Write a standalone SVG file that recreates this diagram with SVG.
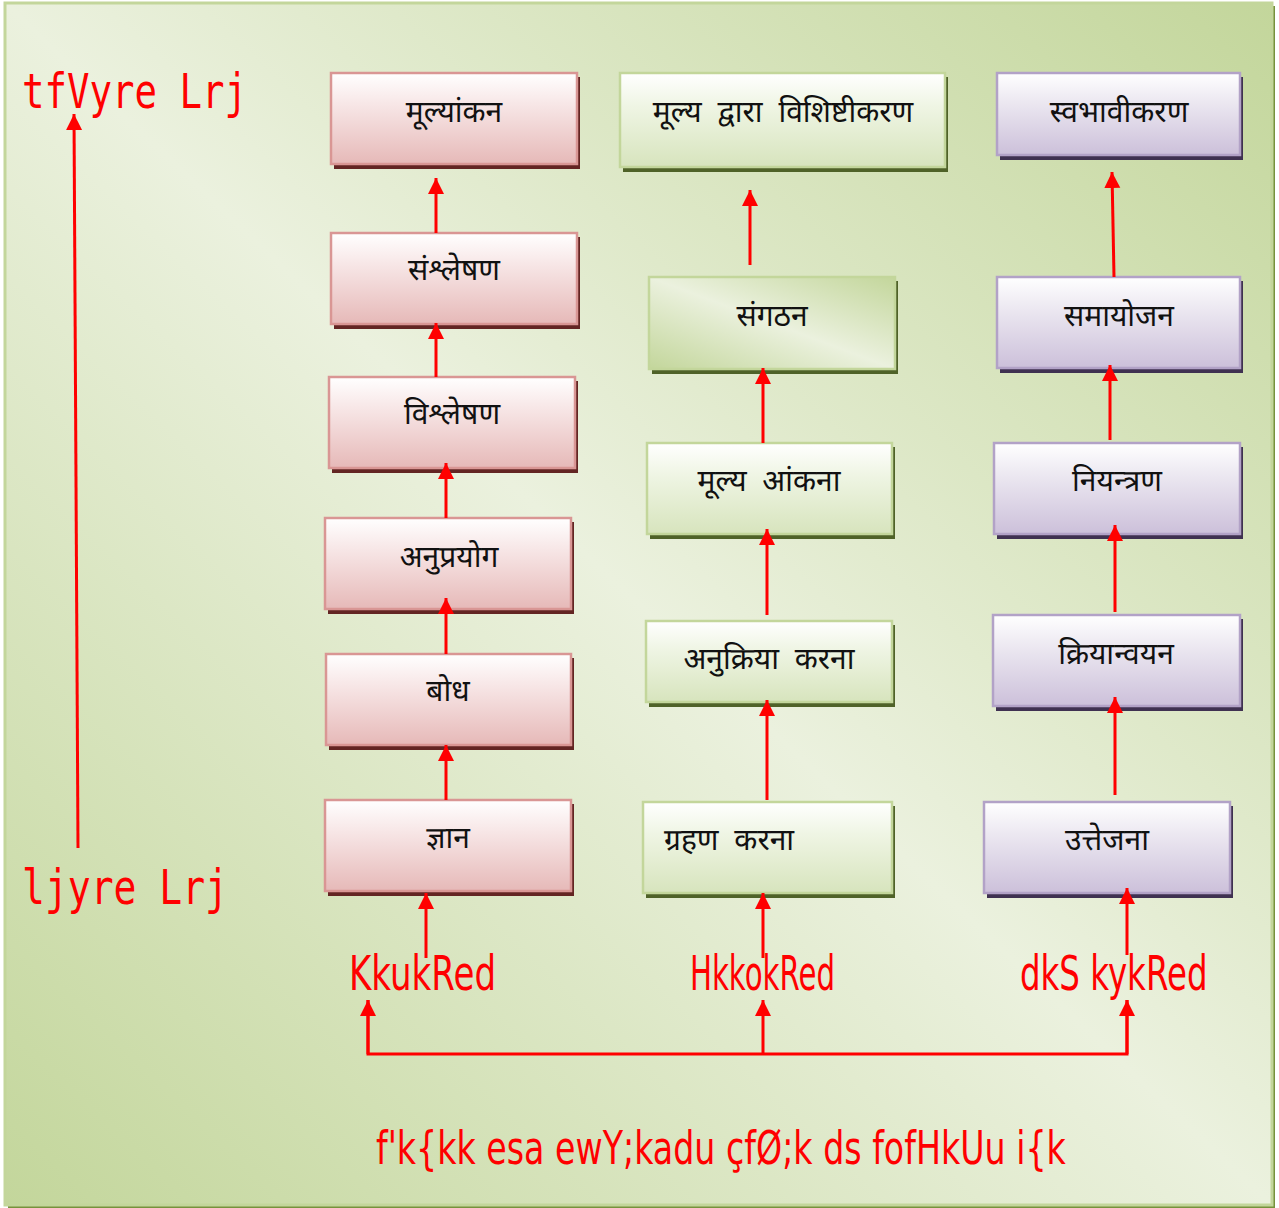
<svg xmlns="http://www.w3.org/2000/svg" width="1279" height="1208" viewBox="0 0 1279 1208">
<defs>
<linearGradient id="bg" x1="1" y1="0" x2="0" y2="1">
<stop offset="0" stop-color="#c3d69b"/>
<stop offset="0.5" stop-color="#ebf1de"/>
<stop offset="1" stop-color="#c3d69b"/>
</linearGradient>
<linearGradient id="gPink" x1="0" y1="0" x2="0" y2="1">
<stop offset="0" stop-color="#ffffff"/>
<stop offset="0.35" stop-color="#f7e6e6"/>
<stop offset="1" stop-color="#e6b9b8"/>
</linearGradient>
<linearGradient id="gGreen" x1="0" y1="0" x2="0" y2="1">
<stop offset="0" stop-color="#ffffff"/>
<stop offset="0.35" stop-color="#eff5e4"/>
<stop offset="1" stop-color="#d7e4bd"/>
</linearGradient>
<linearGradient id="gGreen2" x1="1" y1="0" x2="0" y2="1">
<stop offset="0" stop-color="#c3d69b"/>
<stop offset="0.5" stop-color="#ebf1de"/>
<stop offset="1" stop-color="#c3d69b"/>
</linearGradient>
<linearGradient id="gPurple" x1="0" y1="0" x2="0" y2="1">
<stop offset="0" stop-color="#ffffff"/>
<stop offset="0.35" stop-color="#ece8f1"/>
<stop offset="1" stop-color="#ccc0da"/>
</linearGradient>
<marker id="ah" markerUnits="userSpaceOnUse" markerWidth="16" markerHeight="18" refX="16" refY="8" orient="auto">
<path d="M0,0 L16,8 L0,16 Z" fill="#ff0000"/>
</marker>
</defs>
<style>
.pink rect.b{fill:url(#gPink);stroke:#d99694;stroke-width:2.5}
.pink rect.s{fill:#632523}
.green rect.b{fill:url(#gGreen);stroke:#c3d69b;stroke-width:2.5}
.green rect.s{fill:#4f6228}
.purple rect.b{fill:url(#gPurple);stroke:#b2a2c7;stroke-width:2.5}
.purple rect.s{fill:#3f3151}
.t{font-family:"Noto Sans Devanagari","Lohit Devanagari","Noto Sans",sans-serif;font-size:30px;font-weight:normal;fill:#111;text-anchor:middle}
.r{fill:#ff0000}
.big{font-family:"DejaVu Sans Mono",monospace;font-size:48px}
.leg{font-family:"DejaVu Sans","Liberation Sans",sans-serif;font-size:48px}
#connectors line,#connectors polyline{stroke:#ff0000;stroke-width:3;fill:none}
</style>
<rect x="8" y="6" width="1267" height="1202" fill="#76923c"/>
<rect x="5" y="3" width="1267" height="1202" fill="url(#bg)" stroke="#c3d69b" stroke-width="3"/>

<g id="n1" class="pink"><rect class="s" x="334" y="77" width="246" height="92"/><rect class="b" x="331" y="73" width="246" height="91"/><text class="t" x="454" y="122">मूल्यांकन</text></g>
<g id="n2" class="pink"><rect class="s" x="334" y="237" width="246" height="92"/><rect class="b" x="331" y="233" width="246" height="91"/><text class="t" x="454" y="280">संश्लेषण</text></g>
<g id="n3" class="pink"><rect class="s" x="332" y="381" width="246" height="92"/><rect class="b" x="329" y="377" width="246" height="91"/><text class="t" x="452" y="424">विश्लेषण</text></g>
<g id="n4" class="pink"><rect class="s" x="328" y="522" width="246" height="92"/><rect class="b" x="325" y="518" width="246" height="91"/><text class="t" x="449" y="567">अनुप्रयोग</text></g>
<g id="n5" class="pink"><rect class="s" x="329" y="658" width="245" height="92"/><rect class="b" x="326" y="654" width="245" height="91"/><text class="t" x="448" y="701">बोध</text></g>
<g id="n6" class="pink"><rect class="s" x="328" y="804" width="246" height="92"/><rect class="b" x="325" y="800" width="246" height="91"/><text class="t" x="448" y="848">ज्ञान</text></g>

<g id="n7" class="green"><rect class="s" x="623" y="77" width="325" height="95"/><rect class="b" x="620" y="73" width="325" height="94"/><text class="t" x="783" y="122" word-spacing="8">मूल्य द्वारा विशिष्टीकरण</text></g>
<g id="n8" class="green"><rect class="s" x="652" y="281" width="246" height="93"/><rect class="b" x="649" y="277" width="246" height="92" style="fill:url(#gGreen2)"/><text class="t" x="772" y="326">संगठन</text></g>
<g id="n9" class="green"><rect class="s" x="650" y="447" width="245" height="92"/><rect class="b" x="647" y="443" width="245" height="91"/><text class="t" x="769" y="491" word-spacing="8">मूल्य आंकना</text></g>
<g id="n10" class="green"><rect class="s" x="649" y="625" width="246" height="82"/><rect class="b" x="646" y="621" width="246" height="81"/><text class="t" x="769" y="669" word-spacing="8">अनुक्रिया करना</text></g>
<g id="n11" class="green"><rect class="s" x="646" y="806" width="249" height="92"/><rect class="b" x="643" y="802" width="249" height="91"/><text class="t" x="664" y="850" word-spacing="8" style="text-anchor:start">ग्रहण करना</text></g>

<g id="n12" class="purple"><rect class="s" x="1000" y="77" width="243" height="83"/><rect class="b" x="997" y="73" width="243" height="82"/><text class="t" x="1119" y="122">स्वभावीकरण</text></g>
<g id="n13" class="purple"><rect class="s" x="1000" y="281" width="243" height="92"/><rect class="b" x="997" y="277" width="243" height="91"/><text class="t" x="1119" y="326">समायोजन</text></g>
<g id="n14" class="purple"><rect class="s" x="997" y="447" width="246" height="92"/><rect class="b" x="994" y="443" width="246" height="91"/><text class="t" x="1117" y="491">नियन्त्रण</text></g>
<g id="n15" class="purple"><rect class="s" x="996" y="619" width="247" height="92"/><rect class="b" x="993" y="615" width="247" height="91"/><text class="t" x="1116" y="664">क्रियान्वयन</text></g>
<g id="n16" class="purple"><rect class="s" x="987" y="806" width="246" height="92"/><rect class="b" x="984" y="802" width="246" height="91"/><text class="t" x="1107" y="850">उत्तेजना</text></g>

<g id="labels">
<text class="r big" x="22" y="108" textLength="225" lengthAdjust="spacingAndGlyphs">tfVyre Lrj</text>
<text class="r big" x="22" y="904" textLength="206" lengthAdjust="spacingAndGlyphs">ljyre Lrj</text>
<text class="r leg" x="349" y="990" textLength="147" lengthAdjust="spacingAndGlyphs">KkukRed</text>
<text class="r leg" x="690" y="990" textLength="145" lengthAdjust="spacingAndGlyphs">HkkokRed</text>
<text class="r leg" transform="matrix(0.676,0,0,1,1020,990)" x="0" y="0">dkS kykRed</text>
<text class="r leg" transform="matrix(0.723,0,0,1,376,1164)" x="0" y="0" style="font-size:46px">f'k{kk esa ewY;kadu çfØ;k ds fofHkUu i{k</text>
</g>

<g id="connectors">
<line x1="78" y1="848" x2="74" y2="114" marker-end="url(#ah)"/>
<line x1="436" y1="233" x2="436" y2="178" marker-end="url(#ah)"/>
<line x1="436" y1="377" x2="436" y2="323" marker-end="url(#ah)"/>
<line x1="446" y1="518" x2="446" y2="463" marker-end="url(#ah)"/>
<line x1="446" y1="654" x2="446" y2="598" marker-end="url(#ah)"/>
<line x1="446" y1="800" x2="446" y2="745" marker-end="url(#ah)"/>
<line x1="426" y1="958" x2="426" y2="893" marker-end="url(#ah)"/>
<line x1="750" y1="265" x2="750" y2="190" marker-end="url(#ah)"/>
<line x1="763" y1="443" x2="763" y2="368" marker-end="url(#ah)"/>
<line x1="767" y1="615" x2="767" y2="529" marker-end="url(#ah)"/>
<line x1="767" y1="800" x2="767" y2="700" marker-end="url(#ah)"/>
<line x1="763" y1="958" x2="763" y2="893" marker-end="url(#ah)"/>
<line x1="1114" y1="277" x2="1112" y2="172" marker-end="url(#ah)"/>
<line x1="1110" y1="440" x2="1110" y2="365" marker-end="url(#ah)"/>
<line x1="1115" y1="612" x2="1115" y2="525" marker-end="url(#ah)"/>
<line x1="1115" y1="795" x2="1115" y2="697" marker-end="url(#ah)"/>
<line x1="1127" y1="955" x2="1127" y2="888" marker-end="url(#ah)"/>
<polyline points="368,1000 368,1054 1127,1054 1127,1000"/>
<line x1="368" y1="1054" x2="368" y2="1000" marker-end="url(#ah)"/>
<line x1="763" y1="1054" x2="763" y2="1000" marker-end="url(#ah)"/>
<line x1="1127" y1="1054" x2="1127" y2="1000" marker-end="url(#ah)"/>
</g>
</svg>
